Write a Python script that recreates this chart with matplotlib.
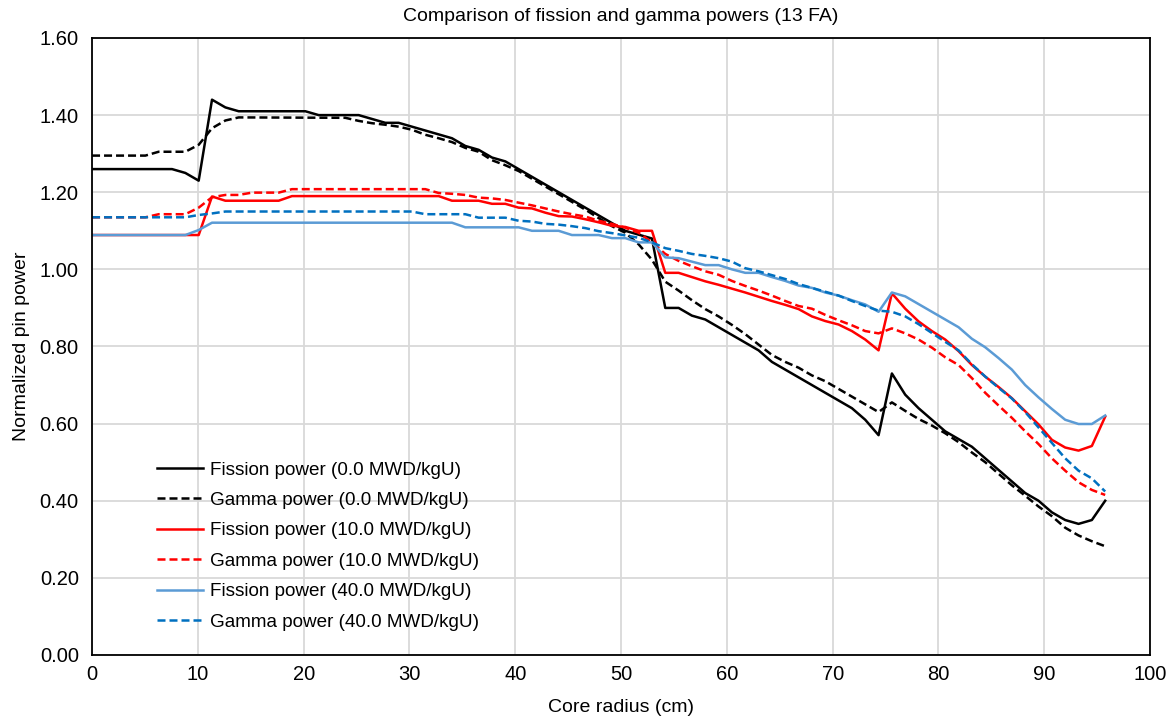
import matplotlib
matplotlib.use("Agg")
import matplotlib.pyplot as plt
from matplotlib.ticker import FormatStrFormatter, MultipleLocator

plt.rcParams["font.family"] = ["Liberation Sans", "DejaVu Sans"]

# pin positions (cm) and normalized powers, one pair of lists per curve
fis0_x = [0, 7.56, 8.82, 10.08, 11.34, 12.60, 13.86, 20.16, 21.42, 25.20, 27.72, 28.98,
          30.24, 31.50, 32.76, 34.02, 35.28, 36.54, 37.80, 39.06, 40.32, 41.58, 42.84,
          44.10, 45.36, 46.62, 47.88, 49.14, 50.40, 51.66, 52.92, 54.18, 55.44, 56.70,
          57.96, 59.22, 60.48, 61.74, 63.00, 64.26, 65.52, 66.78, 68.04, 69.30, 70.56,
          71.82, 73.08, 74.34, 75.60, 76.86, 78.12, 79.38, 80.64, 81.90, 83.16, 84.42,
          85.68, 86.94, 88.20, 89.46, 90.72, 91.98, 93.24, 94.50, 95.76]
fis0_y = [1.26, 1.26, 1.25, 1.23, 1.44, 1.42, 1.41, 1.41, 1.40, 1.40, 1.38, 1.38,
          1.37, 1.36, 1.35, 1.34, 1.32, 1.31, 1.29, 1.28, 1.26, 1.24, 1.22,
          1.20, 1.18, 1.16, 1.14, 1.12, 1.10, 1.09, 1.08, 0.90, 0.90, 0.88,
          0.87, 0.85, 0.83, 0.81, 0.79, 0.76, 0.74, 0.72, 0.70, 0.68, 0.66,
          0.64, 0.61, 0.57, 0.73, 0.675, 0.64, 0.61, 0.58, 0.56, 0.54, 0.51,
          0.48, 0.45, 0.42, 0.40, 0.37, 0.35, 0.34, 0.35, 0.40]

gam0_x = [0, 5.04, 6.30, 8.82, 10.08, 11.34, 12.60, 13.86, 23.94, 25.20, 26.46, 27.72,
          28.98, 30.24, 31.50, 32.76, 34.02, 35.28, 36.54, 37.80, 39.06, 40.32, 41.58,
          42.84, 44.10, 45.36, 46.62, 47.88, 49.14, 50.40, 51.66, 52.92, 54.18, 55.44,
          56.70, 57.96, 59.22, 60.48, 61.74, 63.00, 64.26, 65.52, 66.78, 68.04, 69.30,
          70.56, 71.82, 73.08, 74.34, 75.60, 76.86, 78.12, 79.38, 80.64, 81.90, 83.16,
          84.42, 85.68, 86.94, 88.20, 89.46, 90.72, 91.98, 93.24, 94.50, 95.76]
gam0_y = [1.295, 1.295, 1.305, 1.305, 1.323, 1.366, 1.386, 1.394, 1.393, 1.385, 1.379, 1.375,
          1.370, 1.362, 1.349, 1.340, 1.330, 1.315, 1.305, 1.283, 1.270, 1.255, 1.235,
          1.215, 1.195, 1.175, 1.155, 1.133, 1.112, 1.095, 1.065, 1.025, 0.968, 0.945,
          0.920, 0.897, 0.878, 0.856, 0.832, 0.805, 0.778, 0.760, 0.745, 0.725, 0.710,
          0.690, 0.670, 0.650, 0.630, 0.655, 0.633, 0.612, 0.595, 0.575, 0.552, 0.525,
          0.500, 0.470, 0.440, 0.413, 0.385, 0.360, 0.330, 0.310, 0.295, 0.282]

fis10_x = [0, 8.82, 10.08, 11.34, 12.60, 17.64, 18.90, 32.76, 34.02, 36.54, 37.80, 39.06,
           40.32, 41.58, 42.84, 44.10, 45.36, 46.62, 47.88, 49.14, 50.40, 51.66, 52.92,
           54.18, 55.44, 56.70, 57.96, 59.22, 60.48, 61.74, 63.00, 64.26, 65.52, 66.78,
           68.04, 69.30, 70.56, 71.82, 73.08, 74.34, 75.60, 76.86, 78.12, 79.38, 80.64,
           81.90, 83.16, 84.42, 85.68, 86.94, 88.20, 89.46, 90.72, 91.98, 93.24, 94.50, 95.76]
fis10_y = [1.089, 1.089, 1.089, 1.189, 1.178, 1.178, 1.190, 1.190, 1.178, 1.178, 1.170, 1.170,
           1.160, 1.158, 1.147, 1.138, 1.137, 1.130, 1.122, 1.113, 1.110, 1.100, 1.100,
           0.991, 0.991, 0.980, 0.969, 0.960, 0.950, 0.940, 0.929, 0.918, 0.908, 0.897,
           0.878, 0.866, 0.857, 0.840, 0.818, 0.790, 0.938, 0.898, 0.865, 0.840, 0.818,
           0.788, 0.752, 0.722, 0.695, 0.666, 0.632, 0.598, 0.558, 0.538, 0.530, 0.542, 0.618]

gam10_x = [0, 5.04, 6.30, 8.82, 10.08, 11.34, 12.60, 13.86, 15.12, 17.64, 18.90, 31.50,
           32.76, 34.02, 35.28, 36.54, 37.80, 39.06, 40.32, 41.58, 42.84, 44.10, 45.36,
           46.62, 47.88, 49.14, 50.40, 51.66, 52.92, 54.18, 55.44, 56.70, 57.96, 59.22,
           60.48, 61.74, 63.00, 64.26, 65.52, 66.78, 68.04, 69.30, 70.56, 71.82, 73.08,
           74.34, 75.60, 76.86, 78.12, 79.38, 80.64, 81.90, 83.16, 84.42, 85.68, 86.94,
           88.20, 89.46, 90.72, 91.98, 93.24, 94.50, 95.76]
gam10_y = [1.135, 1.135, 1.143, 1.143, 1.160, 1.187, 1.193, 1.193, 1.199, 1.199, 1.208, 1.208,
           1.198, 1.196, 1.193, 1.186, 1.184, 1.180, 1.173, 1.166, 1.158, 1.150, 1.143,
           1.137, 1.126, 1.118, 1.108, 1.095, 1.070, 1.040, 1.022, 1.008, 0.995, 0.986,
           0.970, 0.957, 0.945, 0.932, 0.918, 0.905, 0.898, 0.882, 0.868, 0.855, 0.840,
           0.834, 0.847, 0.834, 0.818, 0.797, 0.772, 0.752, 0.718, 0.680, 0.647, 0.615,
           0.580, 0.547, 0.510, 0.478, 0.448, 0.428, 0.415]

fis40_x = [0, 8.82, 10.08, 11.34, 34.02, 35.28, 40.32, 41.58, 44.10, 45.36, 47.88, 49.14,
           50.40, 51.66, 52.92, 54.18, 55.44, 56.70, 57.96, 59.22, 60.48, 61.74, 63.00,
           64.26, 65.52, 66.78, 68.04, 69.30, 70.56, 71.82, 73.08, 74.34, 75.60, 76.86,
           78.12, 79.38, 80.64, 81.90, 83.16, 84.42, 85.68, 86.94, 88.20, 89.46, 90.72,
           91.98, 93.24, 94.50, 95.76]
fis40_y = [1.089, 1.089, 1.102, 1.121, 1.121, 1.109, 1.109, 1.100, 1.100, 1.089, 1.089, 1.081,
           1.081, 1.070, 1.070, 1.031, 1.029, 1.020, 1.011, 1.011, 1.000, 0.991, 0.991,
           0.980, 0.970, 0.958, 0.952, 0.940, 0.932, 0.920, 0.909, 0.890, 0.940, 0.930,
           0.910, 0.890, 0.870, 0.850, 0.820, 0.798, 0.770, 0.740, 0.700, 0.668, 0.638,
           0.610, 0.599, 0.599, 0.621]

gam40_x = [0, 8.82, 10.08, 11.34, 12.60, 30.24, 31.50, 35.28, 36.54, 39.06, 40.32, 41.58,
           42.84, 44.10, 45.36, 46.62, 47.88, 49.14, 50.40, 51.66, 52.92, 54.18, 55.44,
           56.70, 57.96, 59.22, 60.48, 61.74, 63.00, 64.26, 65.52, 66.78, 68.04, 69.30,
           70.56, 71.82, 73.08, 74.34, 75.60, 76.86, 78.12, 79.38, 80.64, 81.90, 83.16,
           84.42, 85.68, 86.94, 88.20, 89.46, 90.72, 91.98, 93.24, 94.50, 95.76]
gam40_y = [1.135, 1.135, 1.141, 1.145, 1.150, 1.150, 1.143, 1.143, 1.134, 1.134, 1.126, 1.124,
           1.118, 1.116, 1.112, 1.107, 1.099, 1.094, 1.088, 1.082, 1.070, 1.055, 1.048,
           1.040, 1.035, 1.029, 1.020, 1.003, 0.995, 0.985, 0.975, 0.962, 0.952, 0.942,
           0.932, 0.918, 0.905, 0.893, 0.890, 0.878, 0.858, 0.835, 0.812, 0.790, 0.754,
           0.722, 0.693, 0.665, 0.630, 0.590, 0.550, 0.510, 0.478, 0.458, 0.424]

curves = [
    (fis0_x, fis0_y, "Fission power (0.0 MWD/kgU)", "black", "-"),
    (gam0_x, gam0_y, "Gamma power (0.0 MWD/kgU)", "black", "--"),
    (fis10_x, fis10_y, "Fission power (10.0 MWD/kgU)", "#FF0000", "-"),
    (gam10_x, gam10_y, "Gamma power (10.0 MWD/kgU)", "#FF0000", "--"),
    (fis40_x, fis40_y, "Fission power (40.0 MWD/kgU)", "#5B9BD5", "-"),
    (gam40_x, gam40_y, "Gamma power (40.0 MWD/kgU)", "#0070C0", "--"),
]

fig = plt.figure(figsize=(11.74, 7.22), dpi=100)
ax = fig.add_axes([0.0784, 0.0928, 0.9012, 0.8546])

for xs, ys, label, color, style in curves:
    ls = (0, (3.2, 1.6)) if style == "--" else "-"
    ax.plot(xs, ys, color=color, linestyle=ls, linewidth=1.8, label=label)

ax.set_xlim(0, 100)
ax.set_ylim(0, 1.6)
ax.xaxis.set_major_locator(MultipleLocator(10))
ax.yaxis.set_major_locator(MultipleLocator(0.2))
ax.yaxis.set_major_formatter(FormatStrFormatter("%.2f"))
ax.grid(True, color="#D9D9D9", linewidth=1.3)
ax.set_axisbelow(True)
ax.tick_params(length=0, labelsize=14.5, colors="black")
ax.tick_params(axis="y", pad=9.5)
ax.tick_params(axis="x", pad=7)
for side in ["left", "right", "top", "bottom"]:
    ax.spines[side].set_color("black")
    ax.spines[side].set_linewidth(1.3)

ax.set_title("Comparison of fission and gamma powers (13 FA)", fontsize=14, pad=12)
ax.set_xlabel("Core radius (cm)", fontsize=14, labelpad=11)
ax.set_ylabel("Normalized pin power", fontsize=14, labelpad=7)

ax.legend(loc="lower left", bbox_to_anchor=(0.054, 0.027), frameon=False, fontsize=13.6,
          handlelength=2.43, handletextpad=0.37, labelspacing=0.70, borderaxespad=0)

fig.savefig("out.png", dpi=100)
